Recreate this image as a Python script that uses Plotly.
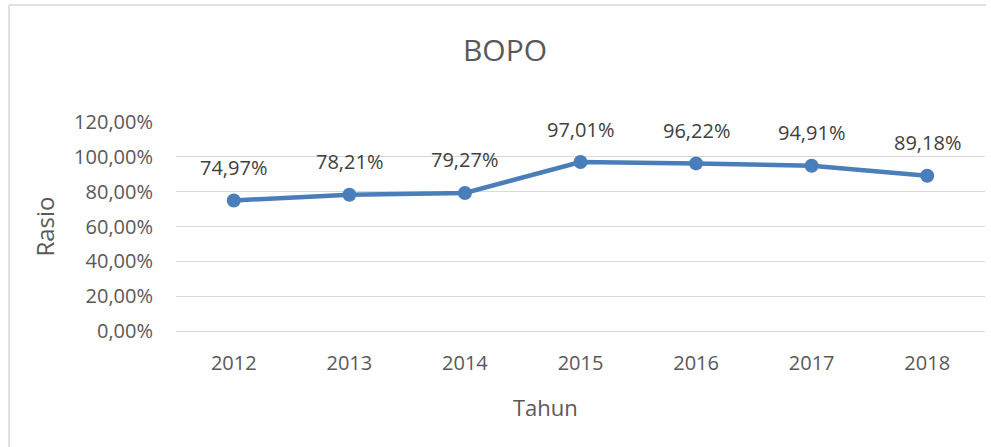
import plotly.graph_objects as go

years = ["2012", "2013", "2014", "2015", "2016", "2017", "2018"]
bopo = [74.97, 78.21, 79.27, 97.01, 96.22, 94.91, 89.18]
y_ticks = [0, 20, 40, 60, 80, 100, 120]
y_tick_labels = ["0,00%", "20,00%", "40,00%", "60,00%", "80,00%", "100,00%", "120,00%"]
labels = [f"{v:.2f}".replace(".", ",") + "%" for v in bopo]
xpos = list(range(len(years)))

FONT = "Open Sans"
GRAY = "#595959"
BLUE = "#4a7ebb"

fig = go.Figure()
fig.add_trace(go.Scatter(
    x=xpos, y=bopo, mode="lines+markers",
    line=dict(color=BLUE, width=4.5),
    marker=dict(color=BLUE, size=14),
    hoverinfo="skip",
))

for x, y, t in zip(xpos, bopo, labels):
    fig.add_annotation(x=x, y=y, text=t, showarrow=False, yshift=33,
                       font=dict(family=FONT, size=20, color="#404040"))

# x-axis title (off-centre in the reference)
fig.add_annotation(text="Tahun", xref="paper", yref="paper",
                   x=(545 - 176) / 809, y=-(407 - 331) / 209,
                   xanchor="center", yanchor="middle", showarrow=False,
                   font=dict(family=FONT, size=22, color=GRAY))

PW, PH = 809, 209
border = dict(color="#d9d9d9", width=1.5)
fig.update_layout(
    width=991, height=447,
    margin=dict(l=176, r=6, t=122, b=116),
    paper_bgcolor="white", plot_bgcolor="white",
    showlegend=False,
    title=dict(text="BOPO", x=505 / 991, xref="container", xanchor="center",
               y=1 - 50 / 447, yref="container", yanchor="middle",
               font=dict(family=FONT, size=30, color=GRAY)),
    font=dict(family=FONT, color=GRAY),
    shapes=[
        dict(type="line", xref="paper", yref="paper",
             x0=-167 / PW, x1=-167 / PW, y0=-116 / PH, y1=1 + 117 / PH,
             line=border, layer="below"),
        dict(type="line", xref="paper", yref="paper",
             x0=-167 / PW, x1=1 + 1 / PW, y0=1 + 117 / PH, y1=1 + 117 / PH,
             line=border, layer="below"),
    ],
)
fig.update_xaxes(
    range=[-0.5, len(years) - 0.5], tickvals=xpos, ticktext=years,
    showgrid=False, showline=False, zeroline=False,
    ticks="", ticklabelstandoff=18,
    tickfont=dict(family=FONT, size=20, color=GRAY),
)
fig.update_yaxes(
    range=[0, 120], tickvals=y_ticks, ticktext=y_tick_labels,
    showgrid=True, gridcolor="#d9d9d9", gridwidth=1.3,
    zeroline=True, zerolinecolor="#d9d9d9", zerolinewidth=1.3,
    showline=False, ticks="", ticklabelstandoff=22,
    tickfont=dict(family=FONT, size=20, color=GRAY),
    title=dict(text="Rasio", standoff=12, font=dict(family=FONT, size=24, color=GRAY)),
)

fig.write_html("out.html", config={"displayModeBar": False},
               post_script="document.body.style.margin='0';")
